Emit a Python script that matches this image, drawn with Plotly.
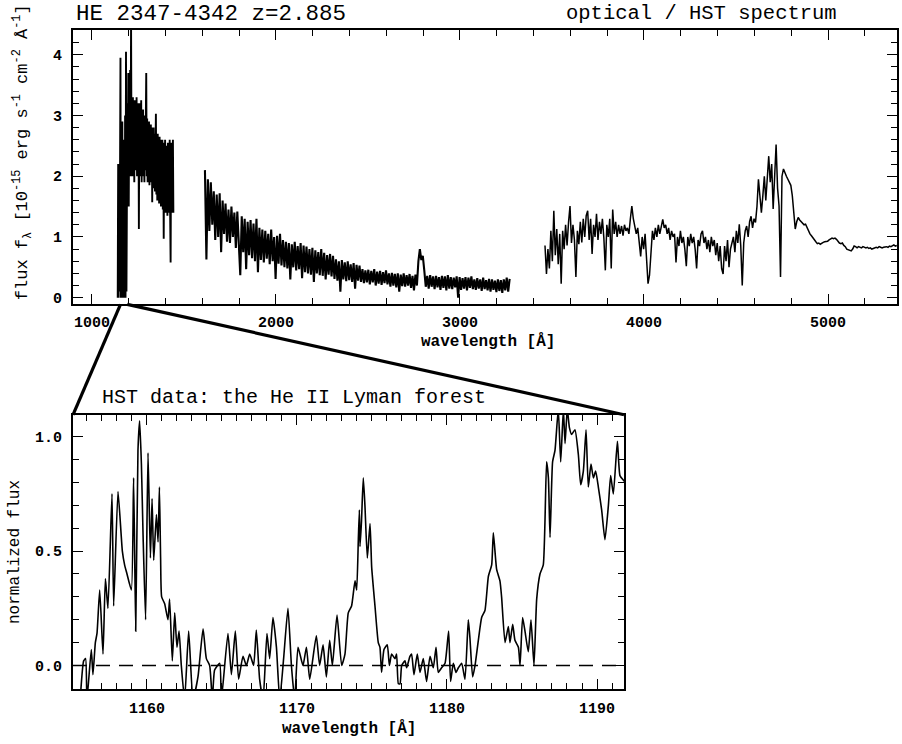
import numpy as np
import plotly.graph_objects as go

# ---------------- data ----------------
# Top panel: HST UV part (He II forest + continuum), grid start / step in Angstrom
uv_start, uv_step = 1140.0, 2.5
uv_flux = [
    0.0, 2.2, 0.0, 1.5, 0.1, 2.6, 3.95, 0.0, 2.4, 0.0,
    2.9, 0.0, 2.2, 0.0, 2.6, 0.0, 3.0, 0.0, 4.05, 0.1, 2.0,
    3.2, 2.1, 3.7, 1.5, 3.3, 2.2, 3.75, 2.0, 4.6, 2.3,
    3.1, 2.0, 3.3, 2.4, 3.2, 1.9, 3.25, 2.1, 3.0, 2.2,
    3.3, 2.0, 3.1, 2.3, 3.2, 1.13, 3.2, 2.0, 3.1, 2.2,
    3.25, 1.9, 3.0, 2.1, 3.1, 2.0, 2.9, 1.9, 3.0, 2.1,
    2.9, 3.7, 2.0, 2.95, 1.9, 2.85, 2.0, 2.9, 1.85, 2.8,
    1.9, 2.85, 2.0, 2.8, 1.57, 2.75, 1.8, 2.8, 1.9, 2.7,
    1.75, 2.7, 3.03, 1.7, 2.65, 1.6, 2.7, 1.75, 2.6, 1.55,
    2.65, 1.6, 2.6, 1.5, 2.55, 1.65, 2.6, 1.45, 2.5, 0.97,
    2.55, 1.5, 2.6, 1.4, 2.5, 1.55, 2.45, 1.35, 2.55, 1.45,
    2.5, 1.4, 2.6, 1.35, 0.58, 2.55, 1.4, 2.5, 1.5, 2.6,
    1.4,
]

# Top panel: HST near-UV part
nuv_start, nuv_step = 1614.0, 8.0
nuv_flux = [
    2.1, 0.63, 1.95, 1.1, 1.9, 1.2, 1.75, 0.95,
    1.7, 1.0, 1.72, 0.75, 1.6, 1.05, 1.55, 0.92,
    1.45, 0.9, 1.5, 1.0, 1.4, 0.82, 1.42, 0.85,
    0.37, 1.34, 0.75, 1.3, 0.47, 1.25, 0.7, 1.28,
    0.65, 1.22, 0.6, 1.3, 0.42, 1.15, 0.62, 1.12,
    0.58, 1.1, 0.64, 1.05, 0.55, 1.12, 0.6, 1.0,
    0.31, 1.02, 0.56, 1.05, 0.53, 0.95, 0.5, 0.92,
    0.48, 0.9, 0.3, 0.88, 0.5, 0.92, 0.45, 0.85,
    0.47, 0.9, 0.32, 0.86, 0.42, 0.84, 0.4, 0.8,
    0.38, 0.82, 0.26, 0.78, 0.4, 0.75, 0.37, 0.8,
    0.36, 0.74, 0.3, 0.7, 0.38, 0.72, 0.35, 0.69,
    0.31, 0.63, 0.28, 0.6, 0.1, 0.62, 0.3, 0.58,
    0.27, 0.6, 0.29, 0.55, 0.26, 0.57, 0.15, 0.54,
    0.28, 0.53, 0.26, 0.47, 0.24, 0.45, 0.25, 0.46,
    0.22, 0.44, 0.25, 0.47, 0.2, 0.43, 0.23, 0.44,
    0.21, 0.42, 0.24, 0.45, 0.22, 0.4, 0.18, 0.41,
    0.2, 0.39, 0.17, 0.4, 0.1, 0.38, 0.19, 0.4,
    0.18, 0.37, 0.2, 0.39, 0.16, 0.36, 0.12, 0.38,
    0.2, 0.6, 0.8, 0.62, 0.69, 0.45, 0.18, 0.36,
    0.15, 0.37, 0.18, 0.35, 0.14, 0.36, 0.17, 0.34,
    0.13, 0.36, 0.16, 0.35, 0.12, 0.37, 0.15, 0.34,
    0.14, 0.33, 0.17, 0.35, 0.0, 0.34, 0.13, 0.32,
    0.15, 0.34, 0.12, 0.33, 0.16, 0.35, 0.14, 0.3,
    0.13, 0.32, 0.15, 0.3, 0.11, 0.33, 0.14, 0.29,
    0.12, 0.31, 0.1, 0.3, 0.13, 0.28, 0.09, 0.3,
    0.11, 0.29, 0.08, 0.3, 0.12, 0.33, 0.1, 0.31,
]

# Top panel: optical part
opt_start, opt_step = 3462.0, 8.0
opt_flux = [
    0.86, 0.39, 0.8, 0.48, 1.1, 0.6, 1.43, 0.7,
    1.13, 0.55, 1.05, 0.23, 1.1, 0.8, 1.2, 0.86,
    1.24, 1.51, 0.9, 1.2, 0.95, 0.34, 1.1, 0.88,
    1.25, 0.91, 1.3, 1.0, 1.35, 1.43, 0.95, 1.3,
    0.72, 1.2, 1.0, 1.38, 0.95, 1.25, 1.05, 1.3,
    0.98, 0.45, 1.2, 1.0, 1.3, 0.48, 1.45, 1.05,
    1.25, 1.0, 1.2, 1.05, 1.18, 1.02, 1.2, 1.1,
    1.15, 1.05, 1.3, 1.51, 1.3, 1.2, 1.05, 1.15,
    0.95, 0.68, 1.0, 0.8, 1.05, 0.6, 0.23, 0.37,
    0.8, 1.1, 0.95, 1.15, 1.0, 1.2, 1.05, 1.2,
    1.29, 1.15, 1.2, 1.05, 1.15, 0.95, 1.1, 1.0,
    1.05, 0.58, 1.0, 0.85, 1.1, 0.9, 1.0, 0.8,
    0.52, 1.0, 0.85, 1.05, 0.9, 1.0, 0.8, 0.48,
    0.95, 0.85, 1.05, 1.1, 0.9, 1.0, 0.8, 0.95,
    0.75, 1.0, 0.85, 0.95, 0.7, 0.9, 0.6, 0.85,
    0.48, 0.39, 0.85, 0.6, 0.95, 0.5, 0.8, 0.9,
    1.0, 0.75, 1.1, 0.9, 1.21, 0.85, 0.2, 0.9,
    1.1, 1.18, 1.0, 1.25, 1.34, 1.15, 1.3, 1.24,
    1.5, 1.95, 1.7, 1.4, 1.68, 2.0, 1.6, 1.9,
    2.33, 1.9, 2.2, 1.46, 2.1, 2.52, 1.8, 1.51,
    0.34, 2.0, 2.12, 2.05, 2.0, 1.95, 1.9, 1.85,
    1.68, 1.4, 1.13, 1.25, 1.32, 1.28, 1.25, 1.22,
    1.2, 1.21, 1.15, 1.1, 1.05, 1.02, 0.98, 0.95,
    0.92, 0.89, 0.9, 0.88, 0.9, 0.91, 0.92, 0.92,
    0.93, 0.95, 0.96, 0.98, 0.97, 0.98, 0.96, 0.93,
    0.9, 0.89, 0.9, 0.86, 0.84, 0.8, 0.79, 0.78,
    0.77, 0.8, 0.85, 0.84, 0.82, 0.84, 0.83, 0.82,
    0.84, 0.83, 0.82, 0.83, 0.81, 0.82, 0.8, 0.81,
    0.82, 0.83, 0.82, 0.84, 0.83, 0.82, 0.83, 0.84,
    0.84, 0.83, 0.85, 0.84, 0.86, 0.87, 0.85, 0.86,
]

# Bottom panel: normalized He II Lyman forest
forest_wl = [
    1155.50, 1155.78, 1155.91, 1156.00, 1156.29, 1156.40, 1156.56, 1156.67, 1156.85, 1157.07,
    1157.23, 1157.40, 1157.67, 1157.78, 1158.07, 1158.36, 1158.51, 1158.67, 1158.96, 1159.11,
    1159.25, 1159.40, 1159.51, 1159.63, 1159.74, 1159.91, 1160.07, 1160.23, 1160.34, 1160.45,
    1160.63, 1160.74, 1160.83, 1160.91, 1160.98, 1161.18, 1161.40, 1161.51, 1161.69, 1161.85,
    1162.00, 1162.14, 1162.29, 1162.51, 1162.78, 1163.07, 1163.40, 1163.74, 1163.96, 1164.18,
    1164.36, 1164.51, 1164.85, 1164.96, 1165.40, 1165.63, 1165.89, 1166.11, 1166.40, 1166.63,
    1166.85, 1167.11, 1167.29, 1167.51, 1167.74, 1168.00, 1168.18, 1168.40, 1168.63, 1168.85,
    1169.11, 1169.40, 1169.63, 1169.85, 1170.07, 1170.40, 1170.63, 1170.85, 1171.29, 1171.51,
    1171.74, 1171.96, 1172.18, 1172.36, 1172.67, 1172.98, 1173.20, 1173.42, 1173.64, 1173.87,
    1173.98, 1174.09, 1174.16, 1174.20, 1174.30, 1174.42, 1174.53, 1174.69, 1174.87, 1174.98,
    1175.20, 1175.42, 1175.53, 1175.64, 1175.80, 1176.02, 1176.16, 1176.31, 1176.53, 1176.64,
    1176.76, 1176.87, 1176.98, 1177.20, 1177.31, 1177.53, 1177.64, 1177.80, 1178.02, 1178.20,
    1178.42, 1178.64, 1178.87, 1179.09, 1179.27, 1179.42, 1179.64, 1179.87, 1180.11, 1180.24,
    1180.42, 1180.60, 1180.76, 1180.98, 1181.20, 1181.42, 1181.53, 1181.71, 1181.87, 1182.09,
    1182.31, 1182.53, 1182.76, 1182.98, 1183.09, 1183.31, 1183.53, 1183.64, 1183.87, 1184.09,
    1184.20, 1184.38, 1184.53, 1184.76, 1184.87, 1185.04, 1185.20, 1185.42, 1185.60, 1185.80,
    1185.98, 1186.20, 1186.42, 1186.64, 1186.76, 1186.87, 1187.04, 1187.20, 1187.42, 1187.58,
    1187.76, 1187.87, 1188.02, 1188.16, 1188.31, 1188.53, 1188.76, 1188.91, 1189.09, 1189.27,
    1189.42, 1189.60, 1189.76, 1189.91, 1190.09, 1190.31, 1190.53, 1190.76, 1190.91, 1191.09,
    1191.36, 1191.53, 1191.76, 1191.90,
]
forest_flux = [
    -0.20, 0.02, 0.03, -0.15, 0.07, -0.04, 0.10, 0.14, 0.33, 0.05,
    0.38, 0.25, 0.75, 0.26, 0.76, 0.50, 0.44, 0.40, 0.33, 0.82,
    0.15, 0.94, 1.07, 0.88, 0.57, 0.20, 0.93, 0.47, 0.73, 0.46,
    0.66, 0.54, 0.78, 0.47, 0.30, 0.27, 0.20, 0.29, 0.02, 0.23,
    0.08, 0.15, 0.00, -0.15, 0.15, -0.15, -0.05, 0.16, 0.03, 0.00,
    -0.15, -0.02, 0.01, -0.15, 0.14, -0.04, 0.15, -0.06, 0.04, 0.00,
    0.05, 0.00, 0.155, -0.06, -0.15, 0.14, 0.03, 0.21, 0.08, -0.15,
    0.03, 0.25, 0.00, -0.15, 0.08, 0.00, 0.08, -0.06, 0.13, 0.00,
    0.09, -0.05, 0.11, 0.00, 0.22, 0.00, 0.05, 0.23, 0.26, 0.37,
    0.33, 0.55, 0.68, 0.52, 0.63, 0.82, 0.70, 0.47, 0.62, 0.43,
    0.26, 0.10, 0.08, -0.03, 0.07, 0.09, 0.00, 0.05, 0.03, 0.05,
    -0.08, -0.08, 0.00, 0.02, -0.01, 0.04, 0.05, -0.04, 0.05, -0.03,
    0.03, -0.07, 0.04, -0.01, 0.08, -0.03, -0.01, 0.01, 0.15, -0.07,
    0.01, -0.03, -0.01, 0.01, -0.06, 0.20, 0.12, -0.05, 0.00, 0.11,
    0.21, 0.24, 0.39, 0.44, 0.58, 0.42, 0.37, 0.30, 0.10, 0.17,
    0.10, 0.18, 0.11, 0.08, 0.00, 0.21, 0.15, 0.06, 0.20, 0.00,
    0.29, 0.40, 0.44, 0.89, 0.82, 0.56, 0.89, 0.94, 1.12, 0.89,
    1.12, 0.97, 1.12, 1.04, 1.01, 1.03, 0.92, 0.79, 0.85, 1.03,
    0.78, 0.88, 0.82, 0.85, 0.78, 0.68, 0.55, 0.70, 0.83, 0.75,
    0.98, 0.83, 0.81, 0.80,
]

# ---------------- layout geometry ----------------
W, H = 902, 744
def px(x):
    return x / W
def py(y):
    return 1 - y / H

top_xdom = [px(73), px(897)]
top_ydom = [py(306), py(30)]
bot_xdom = [px(73), px(624)]
bot_ydom = [py(693), py(417)]
top_xr = [897, 5375]
top_yr = [-0.11, 4.41]
bot_xr = [1155.07, 1191.8]
bot_yr = [-0.104, 1.096]

MONO = "Liberation Mono"

uv_wl = uv_start + uv_step * np.arange(len(uv_flux))
nuv_wl = nuv_start + nuv_step * np.arange(len(nuv_flux))
opt_wl = opt_start + opt_step * np.arange(len(opt_flux))

fig = go.Figure()
for wl, fl, lw in [(uv_wl, uv_flux, 1.9), (nuv_wl, nuv_flux, 2.1), (opt_wl, opt_flux, 1.5)]:
    fig.add_trace(go.Scatter(x=wl, y=fl, mode="lines", xaxis="x", yaxis="y",
                             line=dict(color="black", width=lw), showlegend=False,
                             hoverinfo="skip"))
fig.add_trace(go.Scatter(x=forest_wl, y=forest_flux, mode="lines", xaxis="x2", yaxis="y2",
                         line=dict(color="black", width=1.6, shape="spline", smoothing=0.5),
                         showlegend=False, hoverinfo="skip"))

def axis_style(**kw):
    d = dict(showline=True, linecolor="black", linewidth=2, mirror="allticks",
             ticks="inside", ticklen=10, tickwidth=1.3, tickcolor="black",
             showgrid=False, zeroline=False,
             tickfont=dict(family=MONO, size=15, color="black", weight="bold"))
    d.update(kw)
    return d

minor = lambda dt: dict(dtick=dt, ticks="inside", ticklen=6, tickwidth=1, tickcolor="black",
                        showgrid=False)

fig.update_layout(
    width=W, height=H, margin=dict(l=0, r=0, t=0, b=0),
    paper_bgcolor="white", plot_bgcolor="white",
    xaxis=axis_style(domain=top_xdom, range=top_xr, anchor="y", tick0=0, dtick=1000,
                     minor=minor(200), ticklabelstandoff=3),
    yaxis=axis_style(domain=top_ydom, range=top_yr, anchor="x", tick0=0, dtick=1,
                     minor=minor(0.2), ticklabelstandoff=6),
    xaxis2=axis_style(domain=bot_xdom, range=bot_xr, anchor="y2", tick0=1150, dtick=10,
                      minor=minor(1), ticklabelstandoff=4),
    yaxis2=axis_style(domain=bot_ydom, range=bot_yr, anchor="x2", tick0=0, dtick=0.5,
                      tickformat=".1f", minor=minor(0.1), ticklabelstandoff=6),
)

# zero line in the lower panel
fig.add_shape(type="line", xref="x2 domain", x0=0, x1=1, yref="y2", y0=0, y1=0,
              line=dict(color="black", width=1.3, dash="14px,9px"))

# zoom connector lines (from the top axis scale to the lower panel corners)
def top_x_paper(lam):
    return top_xdom[0] + (lam - top_xr[0]) / (top_xr[1] - top_xr[0]) * (top_xdom[1] - top_xdom[0])

for lam, corner in [(bot_xr[0], bot_xdom[0]), (bot_xr[1], bot_xdom[1])]:
    fig.add_shape(type="line", xref="paper", yref="paper",
                  x0=top_x_paper(lam), y0=top_ydom[0], x1=corner, y1=bot_ydom[1],
                  line=dict(color="black", width=3.2))

def ann(text, x, y, size, xanchor="center", angle=0, weight="normal"):
    fig.add_annotation(text=text, x=px(x), y=py(y), xref="paper", yref="paper",
                       xanchor=xanchor, yanchor="middle", showarrow=False, textangle=angle,
                       font=dict(family=MONO, size=size, color="black", weight=weight))

ann("HE 2347-4342 z=2.885", 74, 14, 22.5, "left")
ann("optical / HST spectrum", 839, 14, 20.5, "right")
ann("wavelength [Å]", 488, 343, 16, weight="bold")
ann("flux f<sub>λ</sub> [10<sup>-15</sup> erg s<sup>-1</sup> cm<sup>-2</sup> Å<sup>-1</sup>]",
    22, 153, 17, angle=-90)
ann("HST data: the He II Lyman forest", 100, 400, 20, "left")
ann("normalized flux", 15, 555, 16, angle=-90)
ann("wavelength [Å]", 349, 732, 16, weight="bold")

fig.write_html("out.html")
